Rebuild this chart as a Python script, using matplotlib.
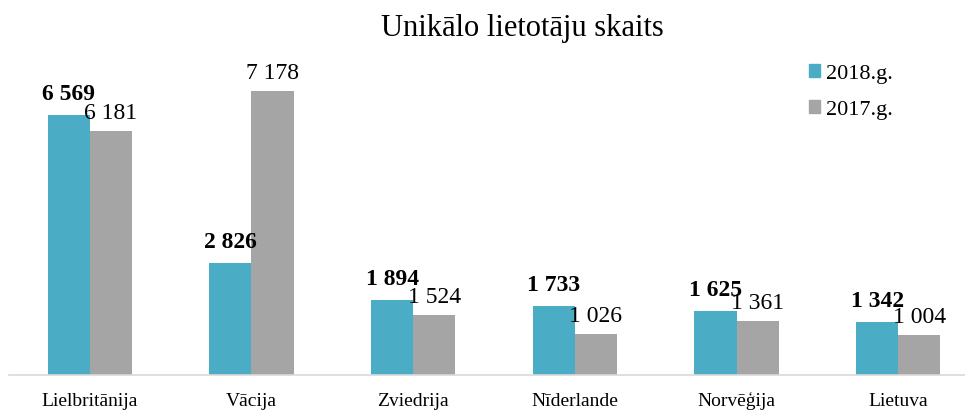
import matplotlib
matplotlib.use("Agg")
import matplotlib.pyplot as plt
import numpy as np
from matplotlib.patches import Patch

categories = ["Lielbritānija", "Vācija", "Zviedrija", "Nīderlande", "Norvēģija", "Lietuva"]
values_2018 = [6569, 2826, 1894, 1733, 1625, 1342]
values_2017 = [6181, 7178, 1524, 1026, 1361, 1004]
series_names = ["2018.g.", "2017.g."]
title = "Unikālo lietotāju skaits"

c18 = "#4BACC6"
c17 = "#A5A5A5"

def fmt(v):
    return f"{v:,}".replace(",", " ")

plt.rcParams['font.family'] = ['Liberation Serif', 'DejaVu Serif']

W, H = 965, 412
fig = plt.figure(figsize=(W/100, H/100), dpi=100)
# axes: x from 9 to 979 px, y baseline at 375 px from top, top at 39
ax = fig.add_axes([9/W, (H-375)/H, 970/W, (375-39)/H])

x = np.arange(len(categories))
bw = 0.26
ax.bar(x - bw/2, values_2018, bw, color=c18, zorder=2)
ax.bar(x + bw/2, values_2017, bw, color=c17, zorder=2)

ax.set_xlim(-0.5, len(categories) - 0.5)
ax.set_ylim(0, 8500)

for xi, v in zip(x, values_2018):
    ax.annotate(fmt(v), (xi - bw/2, v), xytext=(0, 15), textcoords="offset pixels",
                ha="center", va="baseline", fontsize=17, fontweight="bold", color="black")
for xi, v in zip(x, values_2017):
    ax.annotate(fmt(v), (xi + bw/2, v), xytext=(0, 12), textcoords="offset pixels",
                ha="center", va="baseline", fontsize=17, color="black")

for s in ["top", "right", "left"]:
    ax.spines[s].set_visible(False)
ax.spines["bottom"].set_color("#D9D9D9")
ax.spines["bottom"].set_linewidth(1.2)
ax.set_yticks([])
ax.set_xticks(x)
ax.set_xticklabels(categories, fontsize=14, va="baseline")
ax.tick_params(axis="x", length=0, pad=22.5)

fig.text(522/W, 1 - 36/H, title, ha="center", va="baseline", fontsize=22)

handles = [Patch(color=c18), Patch(color=c17)]
fig.legend(handles, series_names, loc="center left", bbox_to_anchor=(809/W, 1 - 92/H),
           frameon=False, fontsize=16, handlelength=0.5, handleheight=0.5,
           handletextpad=0.25, labelspacing=0.75, borderaxespad=0, borderpad=0)

fig.savefig("out.png", dpi=100)
